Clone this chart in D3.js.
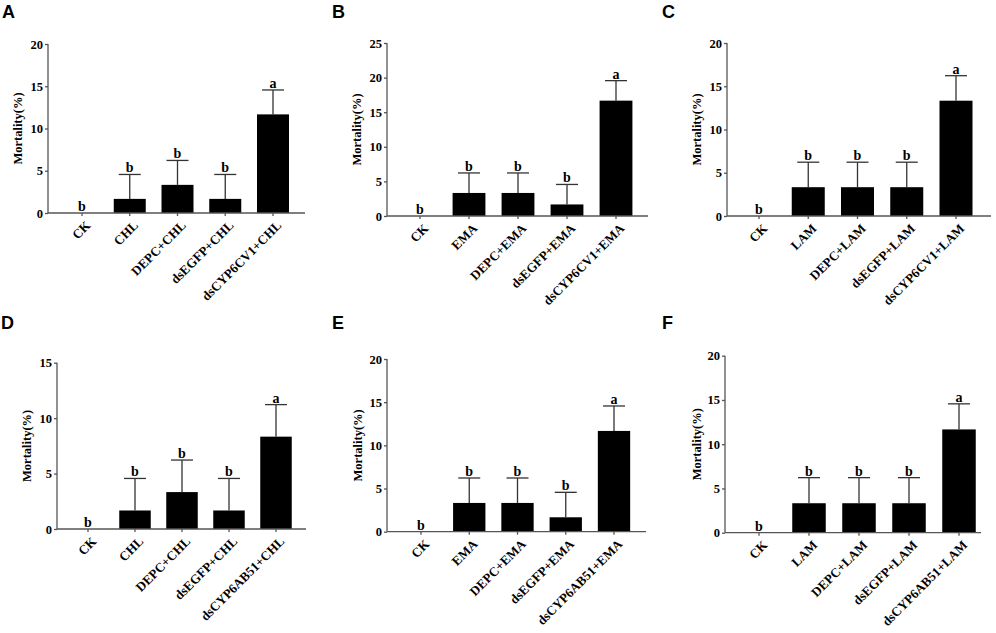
<!DOCTYPE html>
<html>
<head>
<meta charset="utf-8">
<script src="https://cdn.jsdelivr.net/npm/d3@7"></script>
<style>
  body { margin: 0; background: #fff; }
  svg { display: block; }
</style>
</head>
<body>
<div id="chart"></div>
<script>
// 各パネルのデータ
const categoriesA = ["CK", "CHL", "DEPC+CHL", "dsEGFP+CHL", "dsCYP6CV1+CHL"];
const categoriesB = ["CK", "EMA", "DEPC+EMA", "dsEGFP+EMA", "dsCYP6CV1+EMA"];
const categoriesC = ["CK", "LAM", "DEPC+LAM", "dsEGFP+LAM", "dsCYP6CV1+LAM"];
const categoriesD = ["CK", "CHL", "DEPC+CHL", "dsEGFP+CHL", "dsCYP6AB51+CHL"];
const categoriesE = ["CK", "EMA", "DEPC+EMA", "dsEGFP+EMA", "dsCYP6AB51+EMA"];
const categoriesF = ["CK", "LAM", "DEPC+LAM", "dsEGFP+LAM", "dsCYP6AB51+LAM"];

const meansA = [0, 1.67, 3.33, 1.67, 11.67];
const meansB = [0, 3.33, 3.33, 1.67, 16.67];
const meansC = [0, 3.33, 3.33, 3.33, 13.33];
const meansD = [0, 1.67, 3.33, 1.67, 8.33];
const meansE = [0, 3.33, 3.33, 1.67, 11.67];
const meansF = [0, 3.33, 3.33, 3.33, 11.67];

const sdA = [0, 2.89, 2.89, 2.89, 2.89];
const sdB = [0, 2.89, 2.89, 2.89, 2.89];
const sdC = [0, 2.89, 2.89, 2.89, 2.89];
const sdD = [0, 2.89, 2.89, 2.89, 2.89];
const sdE = [0, 2.89, 2.89, 2.89, 2.89];
const sdF = [0, 2.89, 2.89, 2.89, 2.89];

const sigLetters = ["b", "b", "b", "b", "a"];

const ticks20 = [0, 5, 10, 15, 20];
const ticks25 = [0, 5, 10, 15, 20, 25];
const ticks15 = [0, 5, 10, 15];

const yLabel = "Mortality(%)";

// パネルの配置（ピクセル位置）
const panels = [
  { letter: "A", cats: categoriesA, means: meansA, sds: sdA, ticks: ticks20,
    x0: 48, x1: 305, yTop: 44, yBot: 213, c0: 82, c4: 273, lx: 18, px: 2, py: 18 },
  { letter: "B", cats: categoriesB, means: meansB, sds: sdB, ticks: ticks25,
    x0: 387, x1: 648, yTop: 43, yBot: 216, c0: 420, c4: 616, lx: 357, px: 332, py: 18 },
  { letter: "C", cats: categoriesC, means: meansC, sds: sdC, ticks: ticks20,
    x0: 727, x1: 991, yTop: 43, yBot: 216, c0: 759, c4: 956, lx: 697, px: 662, py: 18 },
  { letter: "D", cats: categoriesD, means: meansD, sds: sdD, ticks: ticks15,
    x0: 57, x1: 306, yTop: 362.7, yBot: 529, c0: 88, c4: 276, lx: 27, px: 1, py: 329 },
  { letter: "E", cats: categoriesE, means: meansE, sds: sdE, ticks: ticks20,
    x0: 387, x1: 646, yTop: 359, yBot: 531.7, c0: 421, c4: 614, lx: 358, px: 332, py: 329 },
  { letter: "F", cats: categoriesF, means: meansF, sds: sdF, ticks: ticks20,
    x0: 725, x1: 981, yTop: 355.7, yBot: 532.7, c0: 759, c4: 959, lx: 697, px: 662, py: 329 }
];

const width = 996;
const height = 633;
const serif = "'Liberation Serif', 'Times New Roman', serif";
const sans = "'Liberation Sans', Arial, sans-serif";
const axisColor = "#555";

const svg = d3.select("#chart")
  .append("svg")
  .attr("width", width)
  .attr("height", height);

panels.forEach(p => {
  const g = svg.append("g");
  const step = (p.c4 - p.c0) / (p.cats.length - 1);

  // 中心位置が c0..c4 になるようにバンドを設定
  const x = d3.scaleBand()
    .domain(p.cats)
    .range([p.c0 - step / 2, p.c4 + step / 2])
    .paddingInner(0.33)
    .paddingOuter(0.165);

  const y = d3.scaleLinear()
    .domain([0, d3.max(p.ticks)])
    .range([p.yBot, p.yTop]);

  const rows = p.cats.map((c, i) => ({ cat: c, mean: p.means[i], sd: p.sds[i], sig: sigLetters[i] }));

  // 棒
  g.selectAll("rect.bar")
    .data(rows)
    .enter()
    .append("rect")
    .attr("class", "bar")
    .attr("x", d => x(d.cat))
    .attr("y", d => y(d.mean))
    .attr("width", x.bandwidth())
    .attr("height", d => y(0) - y(d.mean))
    .attr("fill", "#000");

  // エラーバー
  const eb = rows.filter(d => d.sd > 0);
  g.selectAll("line.err")
    .data(eb)
    .enter()
    .append("line")
    .attr("x1", d => x(d.cat) + x.bandwidth() / 2)
    .attr("x2", d => x(d.cat) + x.bandwidth() / 2)
    .attr("y1", d => y(d.mean))
    .attr("y2", d => y(d.mean + d.sd))
    .attr("stroke", "#333")
    .attr("stroke-width", 1.3);
  g.selectAll("line.cap")
    .data(eb)
    .enter()
    .append("line")
    .attr("x1", d => x(d.cat) + x.bandwidth() / 2 - 11)
    .attr("x2", d => x(d.cat) + x.bandwidth() / 2 + 11)
    .attr("y1", d => y(d.mean + d.sd))
    .attr("y2", d => y(d.mean + d.sd))
    .attr("stroke", "#333")
    .attr("stroke-width", 1.3);

  // 有意差の文字
  g.selectAll("text.sig")
    .data(rows)
    .enter()
    .append("text")
    .attr("x", d => x(d.cat) + x.bandwidth() / 2)
    .attr("y", d => y(d.mean + d.sd) - 2)
    .attr("text-anchor", "middle")
    .style("font-family", serif)
    .style("font-weight", "bold")
    .style("font-size", "14px")
    .text(d => d.sig);

  // Y軸
  const yAxis = g.append("g")
    .attr("transform", `translate(${p.x0},0)`)
    .call(d3.axisLeft(y).tickValues(p.ticks).tickSize(3).tickSizeOuter(0).tickPadding(2));
  yAxis.select(".domain").remove();
  yAxis.selectAll(".tick line").attr("stroke", axisColor).attr("stroke-width", 1.3);
  yAxis.selectAll(".tick text")
    .style("font-family", serif)
    .style("font-weight", "bold")
    .style("font-size", "12.5px")
    .attr("fill", "#000");

  g.append("line")
    .attr("x1", p.x0).attr("x2", p.x0)
    .attr("y1", p.yTop).attr("y2", p.yBot)
    .attr("stroke", axisColor).attr("stroke-width", 1.3);

  // X軸
  g.append("line")
    .attr("x1", p.x0).attr("x2", p.x1)
    .attr("y1", p.yBot).attr("y2", p.yBot)
    .attr("stroke", axisColor).attr("stroke-width", 1.3);

  g.selectAll("line.xtick")
    .data(rows)
    .enter()
    .append("line")
    .attr("x1", d => x(d.cat) + x.bandwidth() / 2)
    .attr("x2", d => x(d.cat) + x.bandwidth() / 2)
    .attr("y1", p.yBot)
    .attr("y2", p.yBot + 3)
    .attr("stroke", axisColor).attr("stroke-width", 1.3);

  g.selectAll("text.xlab")
    .data(rows)
    .enter()
    .append("text")
    .attr("transform", d => `translate(${x(d.cat) + x.bandwidth() / 2 + 6},${p.yBot + 10}) rotate(-45)`)
    .attr("text-anchor", "end")
    .attr("dy", "0.35em")
    .style("font-family", serif)
    .style("font-weight", "bold")
    .style("font-size", "13px")
    .text(d => d.cat);

  // Y軸ラベル
  g.append("text")
    .attr("transform", `translate(${p.lx},${(p.yTop + p.yBot) / 2}) rotate(-90)`)
    .attr("text-anchor", "middle")
    .attr("dy", "0.35em")
    .style("font-family", serif)
    .style("font-weight", "bold")
    .style("font-size", "12.5px")
    .text(yLabel);

  // パネル記号
  g.append("text")
    .attr("x", p.px)
    .attr("y", p.py)
    .style("font-family", sans)
    .style("font-weight", "bold")
    .style("font-size", "18px")
    .text(p.letter);
});
</script>
</body>
</html>
